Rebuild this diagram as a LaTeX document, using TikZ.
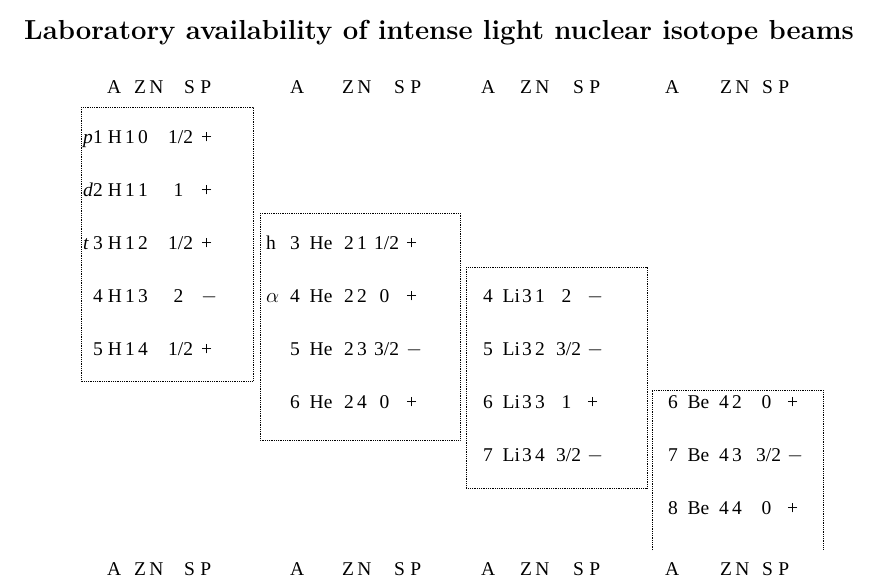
\documentclass[tikz,border=0pt]{standalone}
\usepackage{fontspec}
\newfontfamily\tabfont{Liberation Serif}
\usetikzlibrary{positioning}
\tikzset{
  fld/.style={anchor=base west,inner sep=0,font=\tabfont\fontsize{19.5}{22}\selectfont},
  grp/.style={draw,densely dotted,thick},
}
\begin{document}
\begin{tikzpicture}[x=1pt,y=-1pt]
  \useasboundingbox (0,0) rectangle (876,578);
  \node[font=\bfseries\fontsize{27.5}{30}\selectfont,anchor=base] (title) at (439,40) {Laboratory availability of intense light nuclear isotope beams};

  % headers
  \foreach \y in {94,575} {
    \node[fld] at (107,\y) {A};
    \node[fld] at (134,\y) {Z\,N};
    \node[fld] at (184,\y) {S\;P};
    \node[fld] at (290,\y) {A};
    \node[fld] at (342,\y) {Z\,N};
    \node[fld] at (394,\y) {S\;P};
    \node[fld] at (481,\y) {A};
    \node[fld] at (520,\y) {Z\,N};
    \node[fld] at (573,\y) {S\;P};
    \node[fld] at (665,\y) {A};
    \node[fld] at (720,\y) {Z\,N};
    \node[fld] at (762,\y) {S\;P};
  }

  % hydrogen
  \foreach \y/\pre/\a/\n/\s/\p [count=\i] in {143/\textit{p}/1/0/{1/2}/+, 196/\textit{d}/2/1/{\phantom{/}1}/+, 249/\textit{t}/3/2/{1/2}/+, 302//4/3/{\phantom{/}2}/$-$, 355//5/4/{1/2}/+} {
    \node[fld] at (83,\y) {\pre};
    \node[fld] (h\i) at (93,\y) {\a\ H\,1\,\n};
    \node[fld] at (168,\y) {\s};
    \node[fld] at (201,\y) {\p};
  }
  % helium
  \foreach \y/\pre/\a/\n/\s/\p [count=\i] in {249/h/3/1/{1/2}/+, 302/$\alpha$/4/2/{\phantom{/}0}/+, 355//5/3/{3/2}/$-$, 408//6/4/{\phantom{/}0}/+} {
    \node[fld] at (266,\y) {\pre};
    \node[fld] at (290,\y) {\a\ \ He};
    \node[fld] at (344,\y) {2\,\n};
    \node[fld] at (374,\y) {\s};
    \node[fld] at (406,\y) {\p};
  }
  % lithium
  \foreach \y/\a/\n/\s/\p in {302/4/1/{\phantom{/}2}/$-$, 355/5/2/{3/2}/$-$, 408/6/3/{\phantom{/}1}/+, 461/7/4/{3/2}/$-$} {
    \node[fld] at (483,\y) {\a\ \ Li};
    \node[fld] at (522,\y) {3\,\n};
    \node[fld] at (556,\y) {\s};
    \node[fld] at (587,\y) {\p};
  }
  % beryllium
  \foreach \y/\a/\n/\s/\p in {408/6/2/{\phantom{/}0}/+, 461/7/3/{3/2}/$-$, 514/8/4/{\phantom{/}0}/+} {
    \node[fld] at (668,\y) {\a\ \ Be};
    \node[fld] at (719,\y) {4\,\n};
    \node[fld] at (756,\y) {\s};
    \node[fld] at (787,\y) {\p};
  }

  % boxes
  \draw[grp] (81,107) rectangle (253,381);
  \draw[grp] (260,213) rectangle (460,440);
  \draw[grp] (466,267) rectangle (647,488);
  \draw[grp] (652,550) -- (652,390) -- (823,390) -- (823,550);
\end{tikzpicture}
\end{document}
